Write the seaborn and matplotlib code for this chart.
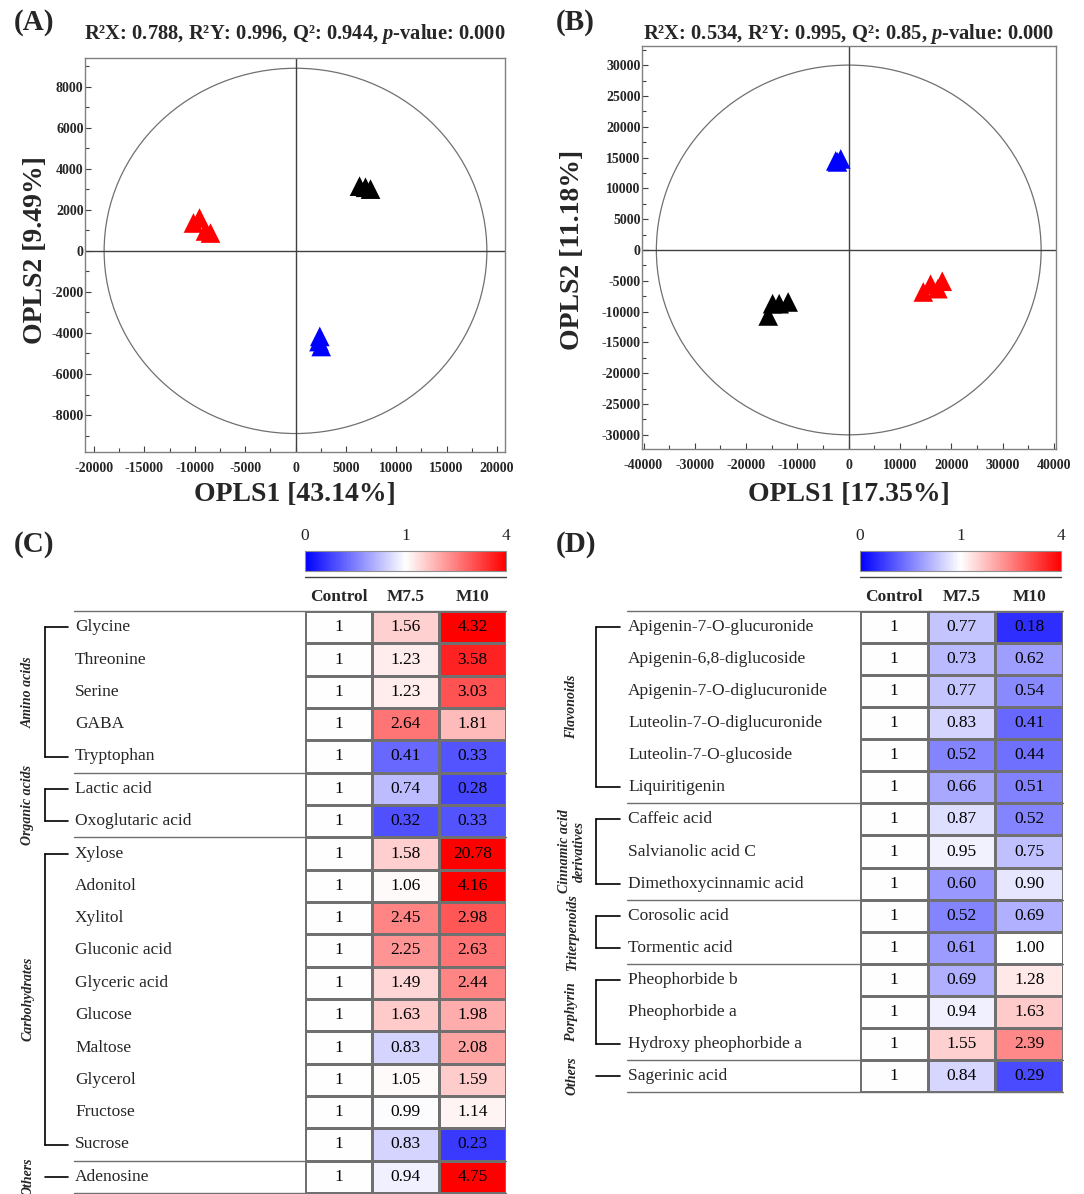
import numpy as np
import pandas as pd
import matplotlib
matplotlib.use('Agg')
import matplotlib.pyplot as plt
import matplotlib.transforms as mtransforms
from matplotlib.colors import LinearSegmentedColormap, TwoSlopeNorm
from matplotlib.patches import Ellipse
from matplotlib.lines import Line2D
from matplotlib.ticker import MultipleLocator
import seaborn as sns

# --- Score plot data (A) ---
a_group = ['M10'] * 4 + ['Control'] * 3 + ['M7.5'] * 3
a_x = [-10130, -9530, -8940, -8440, 6360, 7450, 6950, 2410, 2550, 2330]
a_y = [1360, 1600, 970, 870, 3155, 3010, 3100, -4170, -4660, -4420]
a_ellipse = (19000, 8900)

# --- Score plot data (B) ---
b_group = ['M7.5'] * 3 + ['Control'] * 4 + ['M10'] * 4
b_x = [-2530, -1560, -2200, -14840, -13560, -11810, -15700, 15950, 18230, 14530, 17370]
b_y = [14450, 14770, 14290, -8720, -8720, -8440, -10710, -5570, -5080, -6820, -6280]
b_ellipse = (37500, 30000)

groups_palette = {'Control': 'black', 'M7.5': '#0000ff', 'M10': '#ff0000'}

# --- Heatmap data (C) ---
c_names = ['Glycine', 'Threonine', 'Serine', 'GABA', 'Tryptophan',
           'Lactic acid', 'Oxoglutaric acid',
           'Xylose', 'Adonitol', 'Xylitol', 'Gluconic acid', 'Glyceric acid',
           'Glucose', 'Maltose', 'Glycerol', 'Fructose', 'Sucrose',
           'Adenosine']
c_m75 = [1.56, 1.23, 1.23, 2.64, 0.41, 0.74, 0.32, 1.58, 1.06, 2.45, 2.25,
         1.49, 1.63, 0.83, 1.05, 0.99, 0.83, 0.94]
c_m10 = [4.32, 3.58, 3.03, 1.81, 0.33, 0.28, 0.33, 20.78, 4.16, 2.98, 2.63,
         2.44, 1.98, 2.08, 1.59, 1.14, 0.23, 4.75]
c_groups = [('Amino acids', 5), ('Organic acids', 2), ('Carbohydrates', 10), ('Others', 1)]

# --- Heatmap data (D) ---
d_names = ['Apigenin-7-O-glucuronide', 'Apigenin-6,8-diglucoside',
           'Apigenin-7-O-diglucuronide', 'Luteolin-7-O-diglucuronide',
           'Luteolin-7-O-glucoside', 'Liquiritigenin',
           'Caffeic acid', 'Salvianolic acid C', 'Dimethoxycinnamic acid',
           'Corosolic acid', 'Tormentic acid',
           'Pheophorbide b', 'Pheophorbide a', 'Hydroxy pheophorbide a',
           'Sagerinic acid']
d_m75 = [0.77, 0.73, 0.77, 0.83, 0.52, 0.66, 0.87, 0.95, 0.60, 0.52, 0.61,
         0.69, 0.94, 1.55, 0.84]
d_m10 = [0.18, 0.62, 0.54, 0.41, 0.44, 0.51, 0.52, 0.75, 0.90, 0.69, 1.00,
         1.28, 1.63, 2.39, 0.29]
d_groups = [('Flavonoids', 6), ('Cinnamic acid\nderivatives', 3),
            ('Triterpenoids', 2), ('Porphyrin', 3), ('Others', 1)]

columns = ['Control', 'M7.5', 'M10']
cbar_ticks = [0, 1, 4]

# --- Style ---
sns.set_style('white')
plt.rcParams['font.family'] = ['Liberation Serif', 'DejaVu Serif']
plt.rcParams['axes.unicode_minus'] = False
plt.rcParams['mathtext.fontset'] = 'custom'
plt.rcParams['mathtext.rm'] = 'Liberation Serif:bold'
plt.rcParams['mathtext.bf'] = 'Liberation Serif:bold'
plt.rcParams['mathtext.it'] = 'Liberation Serif:italic:bold'

W, H = 1084, 1194
fig = plt.figure(figsize=(W / 100, H / 100), dpi=100)


def fbox(x0, y0, x1, y1):
    # pixel box (top-left origin) -> figure fraction rect
    return [x0 / W, 1 - y1 / H, (x1 - x0) / W, (y1 - y0) / H]


def score_plot(ax, box, xs, ys, groups, ell, xlim, ylim, xmaj, ymaj, title, title_pad,
               xlabel, ylabel, ylab_x):
    df = pd.DataFrame({'x': xs, 'y': ys, 'group': groups})
    ax.add_patch(Ellipse((0, 0), 2 * ell[0], 2 * ell[1], fill=False,
                         ec='#707070', lw=0.9, zorder=1))
    ax.axhline(0, color='#404040', lw=1, zorder=1)
    ax.axvline(0, color='#404040', lw=1, zorder=1)
    sns.scatterplot(data=df, x='x', y='y', hue='group', palette=groups_palette,
                    marker='^', s=200, linewidth=0, legend=False, ax=ax, zorder=3)
    ax.set_xlim(xlim)
    ax.set_ylim(ylim)
    ax.xaxis.set_major_locator(MultipleLocator(xmaj))
    ax.xaxis.set_minor_locator(MultipleLocator(xmaj / 2))
    ax.yaxis.set_major_locator(MultipleLocator(ymaj))
    ax.yaxis.set_minor_locator(MultipleLocator(ymaj / 2))
    ax.tick_params(which='major', direction='in', length=4, width=0.8,
                   color='#404040', labelsize=10)
    ax.tick_params(which='minor', direction='in', length=3, width=0.8, color='#404040')
    ax.tick_params(axis='x', pad=7)
    ax.tick_params(axis='y', pad=1)
    ax.tick_params(bottom=True, left=True, which='both')
    for lab in ax.get_xticklabels() + ax.get_yticklabels():
        lab.set_fontweight('bold')
    for sp in ax.spines.values():
        sp.set_color('#808080')
        sp.set_linewidth(1)
    ax.set_title(title, fontsize=14.8, fontweight='bold', pad=title_pad)
    ax.set_xlabel(xlabel, fontsize=20, fontweight='bold')
    ax.set_ylabel(ylabel, fontsize=20, fontweight='bold')
    x0, y0, x1, y1 = box
    ax.xaxis.set_label_coords(0.5, (y1 - 482) / (y1 - y0))
    ax.yaxis.set_label_coords((ylab_x - x0) / (x1 - x0), (y1 - 250) / (y1 - y0))


box_a = (85, 58, 505, 452)
ax_a = fig.add_axes(fbox(*box_a))
score_plot(ax_a, box_a, a_x, a_y, a_group, a_ellipse, (-20900, 20800), (-9800, 9400), 5000, 2000,
           r'R²X: 0.788, R²Y: 0.996, Q²: 0.944, $\mathit{p}$-value: 0.000', 14,
           'OPLS1 [43.14%]', 'OPLS2 [9.49%]', 48)

box_b = (642, 46, 1056, 449)
ax_b = fig.add_axes(fbox(*box_b))
score_plot(ax_b, box_b, b_x, b_y, b_group, b_ellipse, (-40300, 40400), (-32300, 33100), 10000, 5000,
           r'R²X: 0.534, R²Y: 0.995, Q²: 0.85, $\mathit{p}$-value: 0.000', 5,
           'OPLS1 [17.35%]', 'OPLS2 [11.18%]', 585)

cmap = LinearSegmentedColormap.from_list('bwr_fc', ['#0000ff', '#ffffff', '#ff0000'])
norm = TwoSlopeNorm(vmin=0, vcenter=1, vmax=4)


def table_panel(ax, cax, names, m75, m10, groups, name_x, brk_x, brk_end, lab_x, right_x, hdr_y):
    n = len(names)
    vals = np.column_stack([np.ones(n), m75, m10])
    annot = np.empty(vals.shape, dtype=object)
    for i in range(n):
        annot[i, 0] = '1'
        annot[i, 1] = f'{m75[i]:.2f}'
        annot[i, 2] = f'{m10[i]:.2f}'
    sns.heatmap(vals, ax=ax, cmap=cmap, norm=norm, annot=annot, fmt='', cbar=False,
                linewidths=0.8, linecolor='#707070',
                annot_kws={'color': 'black', 'fontsize': 12.5},
                xticklabels=columns, yticklabels=False)
    ax.xaxis.tick_top()
    ax.tick_params(axis='x', length=0, pad=4, labelsize=12.5)
    for lab in ax.get_xticklabels():
        lab.set_fontweight('bold')

    tr = mtransforms.blended_transform_factory(fig.transFigure, ax.transData)
    for i, name in enumerate(names):
        ax.text(name_x / W, i + 0.5, name, ha='left', va='center', fontsize=12.5, transform=tr)

    start = 0
    bounds = [0]
    for label, cnt in groups:
        first, last = start + 0.5, start + cnt - 0.5
        kw = dict(color='black', lw=1.2, transform=tr, clip_on=False)
        if cnt > 1:
            ax.plot([brk_x / W, brk_x / W], [first, last], **kw)
            ax.plot([brk_x / W, brk_end / W], [first, first], **kw)
            ax.plot([brk_x / W, brk_end / W], [last, last], **kw)
        else:
            ax.plot([brk_x / W, brk_end / W], [first, first], **kw)
        ax.text(lab_x / W, start + cnt / 2, label, rotation=90, ha='center', va='center',
                fontsize=10, fontstyle='italic', fontweight='bold', linespacing=1.1,
                transform=tr)
        start += cnt
        bounds.append(start)
    for b in bounds:
        ax.plot([(name_x - 1) / W, right_x / W], [b, b], color='#707070', lw=1,
                transform=tr, clip_on=False)

    sm = plt.cm.ScalarMappable(norm=norm, cmap=cmap)
    cb = fig.colorbar(sm, cax=cax, orientation='horizontal', ticks=cbar_ticks)
    cax.xaxis.set_ticks_position('top')
    cax.tick_params(length=0, labelsize=12.5, pad=5)
    cb.outline.set_edgecolor('#909090')
    x0 = cax.get_position().x0
    x1 = cax.get_position().x1
    fig.add_artist(Line2D([x0, x1], [1 - hdr_y / H] * 2, transform=fig.transFigure,
                          color='#404040', lw=1))


ax_c = fig.add_axes(fbox(305, 611, 506, 1193))
cax_c = fig.add_axes(fbox(305, 551, 506, 571))
table_panel(ax_c, cax_c, c_names, c_m75, c_m10, c_groups, 75, 45, 68, 28, 506, 577)

ax_d = fig.add_axes(fbox(860, 611, 1063, 1092))
cax_d = fig.add_axes(fbox(860, 551, 1061, 571))
table_panel(ax_d, cax_d, d_names, d_m75, d_m10, d_groups, 628, 596, 620, 572, 1063, 577)

for lab, (px, py) in zip(['(A)', '(B)', '(C)', '(D)'], [(14, 22), (556, 22), (14, 545), (556, 545)]):
    fig.text(px / W, 1 - py / H, lab, fontsize=21, fontweight='bold', ha='left', va='center')

fig.savefig('out.png', dpi=100)
